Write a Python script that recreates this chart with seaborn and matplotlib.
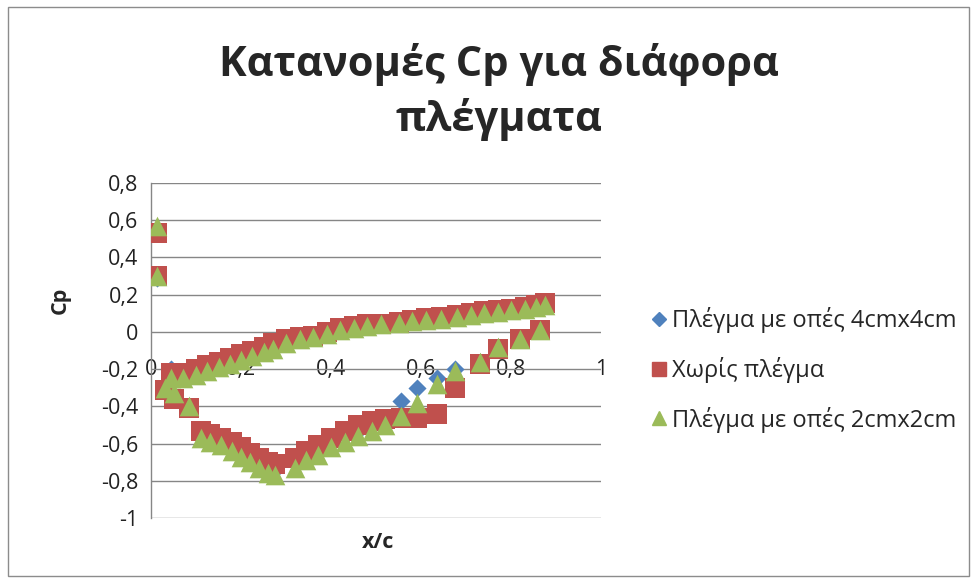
import matplotlib
matplotlib.use("Agg")
import matplotlib.pyplot as plt
import seaborn as sns
import pandas as pd
from matplotlib.patches import Rectangle
from matplotlib.lines import Line2D

sns.set_theme(style="white")
plt.rcParams['font.family'] = ['Open Sans', 'DejaVu Sans']

title = "Κατανομές Cp για διάφορα\nπλέγματα"
series_names = ["Πλέγμα με οπές 4cmx4cm", "Χωρίς πλέγμα", "Πλέγμα με οπές 2cmx2cm"]
x_ticks = [0, 0.2, 0.4, 0.6, 0.8, 1]
y_ticks = [-1, -0.8, -0.6, -0.4, -0.2, 0, 0.2, 0.4, 0.6, 0.8]

# leading-edge points
x_le = [0.013, 0.013]
blue_le = [0.55, 0.29]
red_le = [0.53, 0.30]
green_le = [0.57, 0.30]

# suction-side branch
x_s = [0.03, 0.05, 0.085, 0.11, 0.13, 0.155, 0.18, 0.20, 0.22, 0.24, 0.26, 0.275,
       0.32, 0.345, 0.37, 0.40, 0.43, 0.46, 0.49, 0.52, 0.555, 0.59, 0.635, 0.675,
       0.73, 0.77, 0.82, 0.865]
red_s = [-0.31, -0.36, -0.41, -0.53, -0.55, -0.57, -0.59, -0.62, -0.65, -0.68, -0.70, -0.71,
         -0.68, -0.64, -0.61, -0.57, -0.53, -0.50, -0.48, -0.47, -0.46, -0.46, -0.44, -0.30,
         -0.17, -0.09, -0.04, 0.01]
green_s = [-0.30, -0.33, -0.40, -0.57, -0.59, -0.61, -0.64, -0.67, -0.70, -0.73, -0.76, -0.77,
           -0.73, -0.69, -0.66, -0.62, -0.59, -0.56, -0.53, -0.50, -0.45, -0.38, -0.28, -0.21,
           -0.16, -0.08, -0.04, 0.01]
blue_s = [-0.31, -0.35, -0.40, -0.55, -0.57, -0.59, -0.61, -0.64, -0.67, -0.70, -0.73, -0.74,
          -0.70, -0.66, -0.63, -0.59, -0.56, -0.53, -0.50, -0.46, -0.37, -0.30, -0.25, -0.20,
          -0.16, -0.08, -0.04, 0.01]

# pressure-side branch
x_p = [0.045, 0.07, 0.1, 0.125, 0.15, 0.175, 0.2, 0.225, 0.25, 0.27, 0.3, 0.33, 0.36, 0.39,
       0.42, 0.45, 0.48, 0.51, 0.55, 0.58, 0.61, 0.645, 0.68, 0.71, 0.74, 0.77, 0.80, 0.83,
       0.855, 0.875]
red_p = [-0.22, -0.22, -0.20, -0.18, -0.16, -0.14, -0.12, -0.10, -0.08, -0.06, -0.04, -0.03,
         -0.02, 0.00, 0.02, 0.03, 0.04, 0.045, 0.055, 0.065, 0.075, 0.08, 0.09, 0.10, 0.11,
         0.115, 0.125, 0.135, 0.145, 0.155]
green_p = [-0.25, -0.25, -0.23, -0.21, -0.19, -0.17, -0.15, -0.13, -0.11, -0.09, -0.06, -0.04,
           -0.03, -0.01, 0.01, 0.02, 0.03, 0.04, 0.05, 0.06, 0.065, 0.07, 0.08, 0.09, 0.10,
           0.105, 0.115, 0.125, 0.135, 0.145]
blue_p = [-0.20, -0.22, -0.20, -0.18, -0.16, -0.14, -0.12, -0.10, -0.08, -0.06, -0.04, -0.03,
          -0.02, 0.00, 0.02, 0.03, 0.04, 0.045, 0.055, 0.065, 0.075, 0.08, 0.09, 0.10, 0.11,
          0.115, 0.125, 0.135, 0.145, 0.155]

colors = ["#4F81BD", "#C0504D", "#9BBB59"]
markers = ["D", "s", "^"]
sizes = [85, 200, 200]

fig = plt.figure(figsize=(9.77, 5.83), dpi=100)
ax = fig.add_axes([151/977, 65/583, 450/977, 335/583])
ax.spines["bottom"].set_position(("data", -0.2))

all_y = [blue_le + blue_s + blue_p, red_le + red_s + red_p, green_le + green_s + green_p]
all_x = x_le + x_s + x_p
for name, ys, c, m, s in zip(series_names, all_y, colors, markers, sizes):
    df = pd.DataFrame({"x": all_x, "y": ys})
    sns.scatterplot(data=df, x="x", y="y", ax=ax, color=c, marker=m, s=s,
                    linewidth=0, legend=False, zorder=3)

ax.set_xlim(0, 1)
ax.set_ylim(-1, 0.8)
ax.set_yticks(y_ticks)
ax.set_yticklabels([("%g" % v).replace(".", ",") for v in y_ticks])
ax.set_xticks(x_ticks)
ax.set_xticklabels([("%g" % v).replace(".", ",") for v in x_ticks])
ax.grid(True, axis="y", color="#868686", linewidth=1)
ax.grid(False, axis="x")
for sp in ["top", "right", "bottom"]:
    ax.spines[sp].set_visible(False)
ax.spines["left"].set_color("#868686")
ax.spines["left"].set_linewidth(1)
ax.tick_params(axis="x", length=0, pad=0, labelsize=15.5, labelcolor="#222222")
ax.tick_params(axis="y", length=0, pad=9, labelsize=15.5, labelcolor="#222222")
for lab in ax.get_xticklabels():
    lab.set_va("center")
ax.set_xlabel("")
ax.set_ylabel("")

fig.text(60/977, 1 - 300/583, "Cp", rotation=90, fontsize=15.5, fontweight="bold",
         ha="center", va="center")
fig.text(378/977, 1 - 543/583, "x/c", fontsize=15.5, fontweight="bold", ha="center", va="center")
fig.text(499/977, 1 - 92/583, title, fontsize=30, fontweight="bold", ha="center", va="center",
         linespacing=1.35)

handles = [Line2D([], [], linestyle="none", marker=m, color=c, markersize=ms)
           for m, c, ms in zip(markers, colors, [7, 9.5, 9.5])]
fig.legend(handles, series_names, loc="center left", bbox_to_anchor=(637/977, 1 - 370/583),
           frameon=False, fontsize=17, handletextpad=0.0, labelspacing=1.0,
           handlelength=1.1, borderaxespad=0)

fig.patches.append(Rectangle((8/977, 7/583), 961/977, 569/583, transform=fig.transFigure,
                             fill=False, edgecolor="#8c8c8c", linewidth=1))
fig.savefig("out.png", dpi=100)
